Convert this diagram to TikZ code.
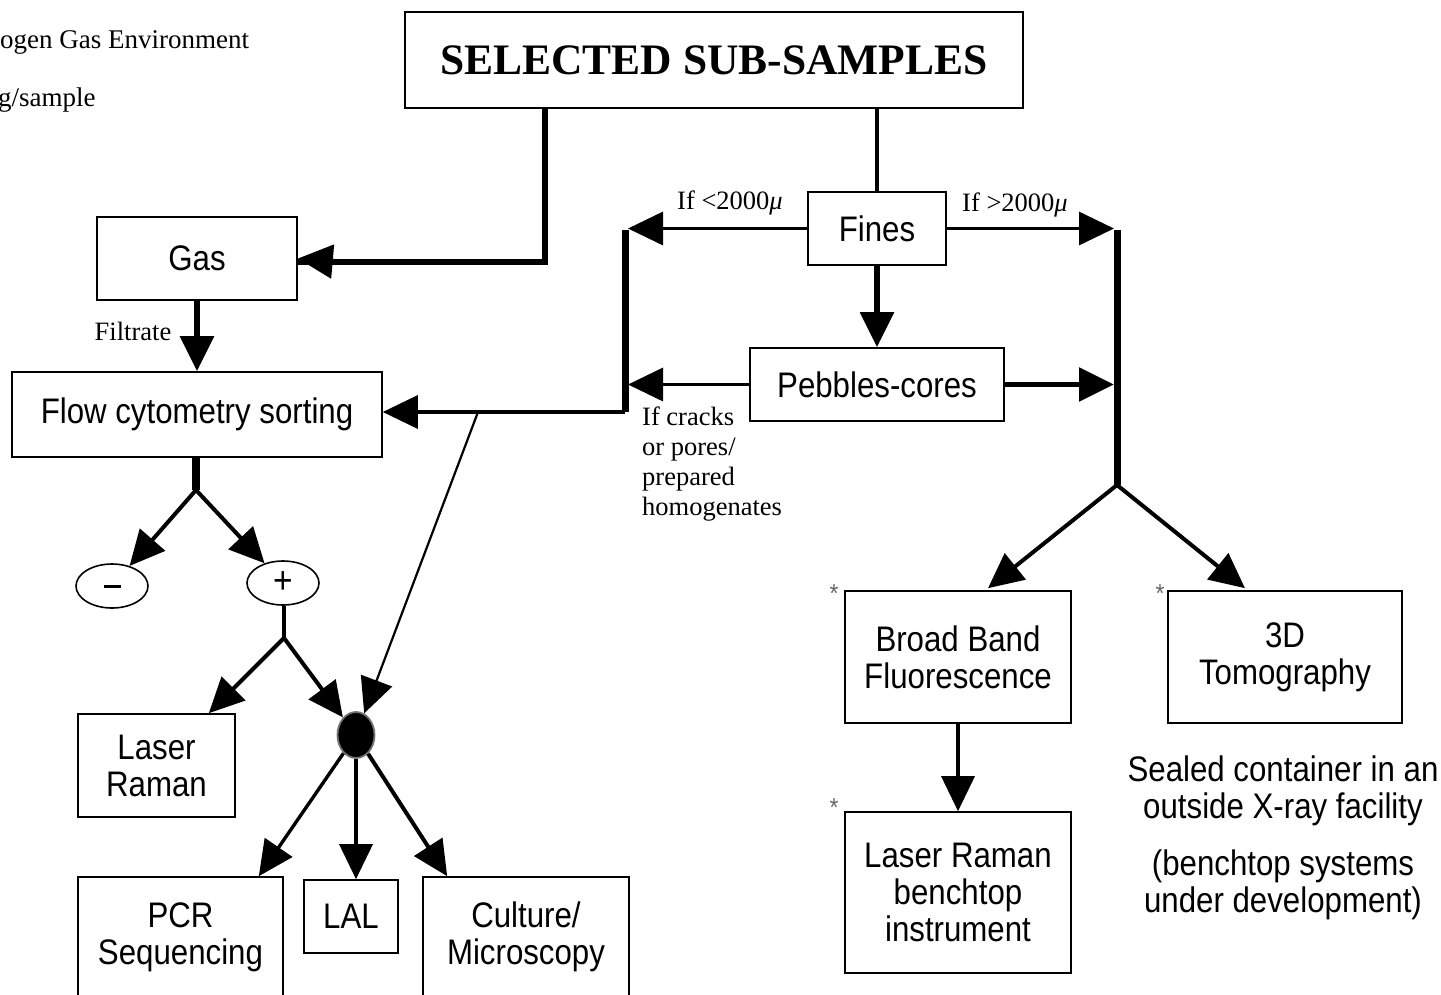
\documentclass[tikz,border=0pt]{standalone}
\usepackage{fontspec}
\setmainfont{Liberation Serif}
\newfontfamily\boxfont[FakeStretch=0.88]{Liberation Sans}
\usetikzlibrary{arrows.meta,shapes.geometric,calc}

\begin{document}
\begin{tikzpicture}[x=1pt,y=-1pt,
  box/.style={draw, line width=1.6pt, inner sep=0pt, align=center,
    font=\boxfont\fontsize{35.5}{37}\selectfont},
  oval/.style={ellipse, draw, line width=1.6pt, inner sep=0pt,
    minimum width=72pt, minimum height=44pt, font=\boxfont\fontsize{38}{38}\selectfont},
  lbl/.style={inner sep=0pt, align=center, font=\fontsize{26.5}{30}\selectfont},
  star/.style={inner sep=0pt, text=black!60, font=\boxfont\fontsize{26}{26}\selectfont},
  tip/.style={-{Triangle[length=35pt,width=33pt]}},
  wthin/.style={line width=2.2pt},
  wmed/.style={line width=3.4pt},
  wthick/.style={line width=5.5pt},
  wbar/.style={line width=7pt},
]
\useasboundingbox (0,0) rectangle (1441,994);

% top-left clipped text
\node[lbl, anchor=west, font=\fontsize{27}{30}\selectfont] (env) at (0,42) {ogen Gas Environment};
\node[lbl, anchor=west, font=\fontsize{27}{30}\selectfont] (smp) at (-2,100) {g/sample};

% boxes
\node[box, minimum width=618pt, minimum height=96pt, font=\bfseries\fontsize{43.5}{48}\selectfont] (title) at (714,60) {SELECTED SUB-SAMPLES};
\node[box, minimum width=200pt, minimum height=83pt] (gas) at (197,258.5) {Gas};
\node[box, minimum width=370pt, minimum height=85pt] (flow) at (197,414.5) {Flow cytometry sorting};
\node[box, minimum width=138pt, minimum height=73pt] (fines) at (877,228.5) {Fines};
\node[box, minimum width=254pt, minimum height=73pt] (peb) at (877,384.5) {Pebbles-cores};
\node[box, minimum width=157pt, minimum height=103pt] (laser) at (156.5,765.5) {Laser\\Raman};
\node[box, minimum width=205pt, minimum height=120pt] (pcr) at (180.5,937) {PCR\\Sequencing};
\node[box, minimum width=94pt, minimum height=73pt] (lal) at (351,916.5) {LAL};
\node[box, minimum width=206pt, minimum height=120pt] (cult) at (526,937) {Culture/\\Microscopy};
\node[box, minimum width=226pt, minimum height=132pt] (bb) at (958,657) {Broad Band\\Fluorescence};
\node[box, minimum width=226pt, minimum height=161pt] (lrb) at (958,892.5) {Laser Raman\\benchtop\\instrument};
\node[box, minimum width=234pt, minimum height=132pt] (td) at (1285,657) {3D\\Tomography};

\node[oval] (minus) at (112,586) {\rule{17pt}{3pt}};
\node[oval] (plus) at (283,583) {+};
\node[ellipse, fill=black, draw=black!55, line width=1.8pt, inner sep=0pt,
  minimum width=37pt, minimum height=46pt] (dot) at (356,735) {};

% stars
\node[star] (s1) at (834,594) {*};
\node[star] (s2) at (834,808) {*};
\node[star] (s3) at (1160,594) {*};

% free texts
\node[lbl, align=center, font=\boxfont\fontsize{35.5}{37}\selectfont] (seal1) at (1283,791) {Sealed container in an\\outside X-ray facility};
\node[lbl, align=center, font=\boxfont\fontsize{35.5}{37}\selectfont] (seal2) at (1283,885) {(benchtop systems\\under development)};

% labels
\node[lbl] (lt) at (730,203) {If <2000{\itshape μ}};
\node[lbl] (gt) at (1015,205) {If >2000{\itshape μ}};
\node[lbl] (filt) at (133,331) {Filtrate};
\node[lbl, align=left, anchor=north west] (crk) at (642,407) {If cracks\\or pores/\\prepared\\homogenates};

% coordinates
\coordinate (tg) at (545,262);
\coordinate (lbT) at (625,230);
\coordinate (lbB) at (625,412);
\coordinate (lb1) at (628,230);
\coordinate (lb2) at (628,384);
\coordinate (rbT) at (1117,230);
\coordinate (rbB) at (1117,485);
\coordinate (rb1) at (1114,230);
\coordinate (rb2) at (1114,384);
\coordinate (split) at (478,412);
\coordinate (fb) at (196,490);
\coordinate (pb) at (284,638);

% connectors
\draw[wthick, line join=miter] (title.south -| tg) -- (tg) -- (tg -| gas.east);
\draw[wthick, tip] (tg -| gas.east) ++(40,0) -- (gas.east);
\draw[wmed] (title.south -| fines) -- (fines.north);
\draw[wmed, tip] (fines.west) -- (fines.west -| lb1);
\draw[wmed, tip] (fines.east) -- (fines.east -| rb1);
\draw[wthick, tip] (fines.south) -- (peb.north);
\draw[wmed, tip] (peb.west) -- (peb.west -| lb2);
\draw[wthick, tip] (peb.east) -- (peb.east -| rb2);
\draw[wbar] (lbT) -- (lbB);
\draw[wbar] (rbT) -- (rbB);
\draw[wmed, tip] (lbB) -- (lbB -| flow.east);
\draw[wthin, tip] (split) -- (dot);
\draw[wthick, tip] (gas.south) -- (flow.north);
\draw[line width=8pt] (flow.south -| fb) -- (fb);
\draw[line width=4pt, tip] (fb) -- (minus);
\draw[line width=4pt, tip] (fb) -- (plus);
\draw[wmed] (plus.south -| pb) -- (pb);
\draw[line width=4pt, tip] (pb) -- (laser);
\draw[line width=4pt, tip] (pb) -- (dot);
\draw[wmed, tip] (dot) -- ($(pcr.north east)+(-25,0)$);
\draw[wmed, tip] (dot.south) -- (dot.south |- lal.north);
\draw[line width=4pt, tip] (dot) -- ($(cult.north west)+(25,0)$);
\draw[line width=4pt, tip] (rbB) -- ($(bb.north)+(30,-2)$);
\draw[line width=4pt, tip] (rbB) -- ($(td.north)+(-40,-2)$);
\draw[wmed, tip] (bb.south) -- (lrb.north);
\end{tikzpicture}
\end{document}
